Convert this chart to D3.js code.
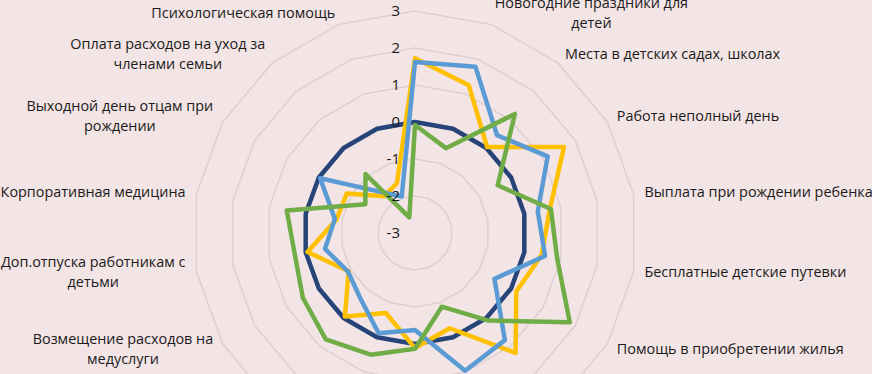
<!DOCTYPE html>
<html>
<head>
<meta charset="utf-8">
<script src="https://cdn.jsdelivr.net/npm/d3@7"></script>
<style>
  body { margin: 0; background: #f3e4e5; }
  svg { display: block; }
  text { font-family: "Open Sans", sans-serif; fill: #1a1a1a; }
</style>
</head>
<body>
<div class="d3-chart-container"></div>
<script>
// axis names, clockwise from the top (a few of them sit outside the visible area)
const CATEGORIES = [
  "Подарки детям",
  "Новогодние праздники для\nдетей",
  "Места в детских садах, школах",
  "Работа неполный день",
  "Выплата при рождении ребенка",
  "Бесплатные детские путевки",
  "Помощь в приобретении жилья",
  "Гибкий график работы",
  "Удаленная работа",
  "Оплата обучения детей",
  "Детская комната в офисе",
  "Компенсация питания",
  "Возмещение расходов на\nмедуслуги",
  "Доп.отпуска работникам с\nдетьми",
  "Корпоративная медицина",
  "Выходной день отцам при\nрождении",
  "Оплата расходов на уход за\nчленами семьи",
  "Психологическая помощь",
];

const TICKS = [-3, -2, -1, 0, 1, 2, 3];

const BASE   = [0, 0, 0, 0, 0, 0, 0, 0, 0, 0, 0, 0, 0, 0, 0, 0, 0, 0];
const YELLOW = [1.72, 1.25, 0.03, 1.65, 0.7, 0.47, 0.16, 1.23, -0.26, 0.11, -0.7, -0.05, -0.93, -0.05, -0.85, -0.87, -1.7, -1.57];
const BLUE   = [1.62, 1.78, 0.45, 1.14, 0.37, 0.57, -0.52, 0.78, 0.96, -0.38, -0.12, -0.7, -0.91, -0.53, -0.8, -0.04, -1.55, -1.95];
const GREEN  = [-0.08, -0.56, 1.2, -0.42, 0.73, 0.9, 1.83, 0.09, -0.88, 0.13, 0.5, 0.75, 0.5, 0.3, 0.52, -1.45, -0.92, -2.55];

document.addEventListener("DOMContentLoaded", () => {
  makeRadar();
});

function makeRadar() {
  const width = 872, height = 374;
  const cx = 415, cy = 233;
  const n = CATEGORIES.length;
  const fontSize = "14.4px";

  const svg = d3.select(".d3-chart-container")
    .append("svg")
    .attr("width", width)
    .attr("height", height);

  const g = svg.append("g")
    .attr("transform", "translate(" + cx + "," + cy + ")");

  // value -> radius, -3 sits at the centre
  const r = d3.scaleLinear().domain([-3, 3]).range([0, 222]);
  const angle = d3.scaleLinear().domain([0, n]).range([0, 2 * Math.PI]);

  // web rings
  const ring = d3.lineRadial()
    .angle((d, i) => angle(i))
    .radius(d => r(d))
    .curve(d3.curveLinearClosed);

  g.selectAll(".ring")
    .data(TICKS.filter(t => t > -3))
    .enter()
    .append("path")
    .attr("class", "ring")
    .attr("d", t => ring(d3.range(n).map(() => t)))
    .attr("fill", "none")
    .attr("stroke", "#ddd0d2")
    .attr("stroke-width", 1.5);

  // series
  const series = [
    {values: BASE,   color: "#264478"},
    {values: YELLOW, color: "#ffc000"},
    {values: BLUE,   color: "#5b9bd5"},
    {values: GREEN,  color: "#70ad47"},
  ];

  const line = d3.lineRadial()
    .angle((d, i) => angle(i))
    .radius(d => r(d))
    .curve(d3.curveLinearClosed);

  g.selectAll(".series")
    .data(series)
    .enter()
    .append("path")
    .attr("class", "series")
    .attr("d", s => line(s.values))
    .attr("fill", "none")
    .attr("stroke", s => s.color)
    .attr("stroke-width", 4.5)
    .attr("stroke-linejoin", "round");

  // tick labels along the top spoke
  g.selectAll(".tick")
    .data(TICKS)
    .enter()
    .append("text")
    .attr("class", "tick")
    .attr("x", -15)
    .attr("y", t => -r(t))
    .attr("dy", "0.35em")
    .attr("text-anchor", "end")
    .style("font-size", "15px")
    .text(t => t);

  // category labels
  const labelR = 233, lineH = 20;
  CATEGORIES.forEach((name, i) => {
    const a = angle(i);
    const px = labelR * Math.sin(a), py = -labelR * Math.cos(a);
    const lines = name.split("\n");
    const t = g.append("text").style("font-size", fontSize);
    lines.forEach((l, k) => {
      t.append("tspan").attr("x", 0).attr("y", k * lineH).text(l);
    });
    // centre lines inside the block, then put the block against the anchor point
    const w = t.node().getBBox().width;
    t.selectAll("tspan")
      .attr("text-anchor", "middle")
      .attr("x", w / 2);
    let x0;
    if (Math.abs(px) < 1) x0 = px - w / 2;
    else if (px > 0) x0 = px;
    else x0 = px - w;
    const blockH = lines.length * lineH;
    let y0 = py - blockH / 2;
    if (Math.abs(px) < 1) y0 = py < 0 ? py - blockH - 8 : py + 8;
    t.attr("transform", "translate(" + x0 + "," + (y0 + lineH * 0.7) + ")");
  });
}
</script>
</body>
</html>
